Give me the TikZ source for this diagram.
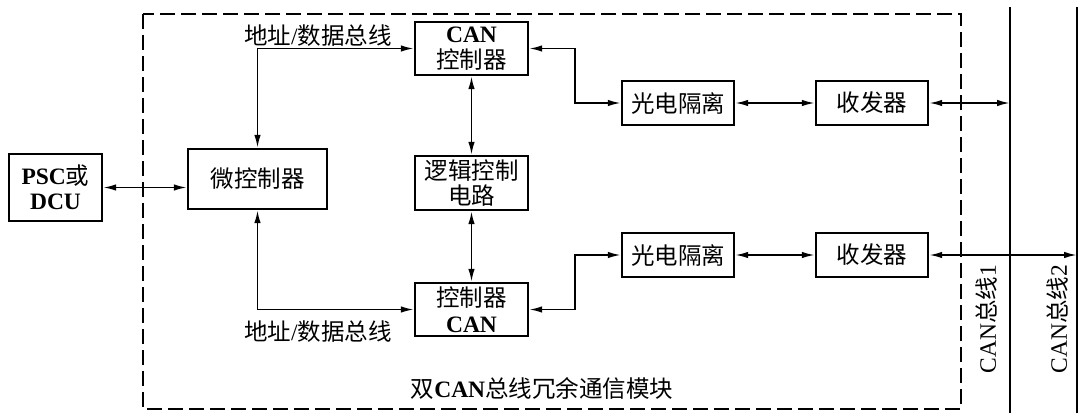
\documentclass[tikz,border=0pt]{standalone}
\usepackage{fontspec}
\setmainfont{Liberation Serif}
\newfontfamily\cjk{Noto Sans CJK SC}
\usetikzlibrary{arrows.meta}
\tikzset{
  blk/.style={draw, line width=2.3pt, align=center, inner sep=0pt,
    font=\fontsize{23.5}{25.5}\selectfont},
  arr/.style={line width=1.8pt, {Latex[length=13pt,width=6.5pt]}-{Latex[length=13pt,width=6.5pt]}},
  lbl/.style={font=\fontsize{23.5}{25.5}\selectfont, inner sep=0pt},
  busline/.style={line width=2pt},
  frame/.style={line width=2pt, dash pattern=on 15pt off 6pt}
}
\begin{document}
\begin{tikzpicture}[x=1pt,y=-1pt]
\useasboundingbox (0,0) rectangle (1082,413);
% dashed module frame
\draw[frame] (143,14) rectangle (961,409);
% blocks
\node[blk, minimum width=93pt, minimum height=67pt] (psc) at (55.5,187.5) {\textbf{PSC}{\cjk 或}\\\textbf{DCU}};
\node[blk, minimum width=139pt, minimum height=60pt] (mcu) at (257.5,179) {{\cjk 微控制器}};
\node[blk, minimum width=113pt, minimum height=53pt] (can1) at (471.5,48.5) {\textbf{CAN}\\{\cjk 控制器}};
\node[blk, minimum width=113pt, minimum height=54pt] (logic) at (471.5,183) {{\cjk 逻辑控制}\\{\cjk 电路}};
\node[blk, minimum width=113pt, minimum height=53pt] (can2) at (471.5,309.5) {{\cjk 控制器}\\\textbf{CAN}};
\node[blk, minimum width=112pt, minimum height=44pt] (opto1) at (678,103) {{\cjk 光电隔离}};
\node[blk, minimum width=112pt, minimum height=44pt] (trx1) at (872,103) {{\cjk 收发器}};
\node[blk, minimum width=112pt, minimum height=44pt] (opto2) at (678,255) {{\cjk 光电隔离}};
\node[blk, minimum width=112pt, minimum height=44pt] (trx2) at (872,255) {{\cjk 收发器}};
% buses
\coordinate (b1t) at (1010,7);
\coordinate (b1b) at (1010,413);
\coordinate (b2t) at (1077,7);
\coordinate (b2b) at (1077,413);
\draw[busline] (b1t) -- (b1b);
\draw[busline] (b2t) -- (b2b);
% elbow coordinates
\coordinate (e1) at (575,75);
\coordinate (e2) at (575,280);
% connectors
\draw[arr] (psc.east) -- (psc.east -| mcu.west);
\draw[arr] (mcu.north) |- (can1.west);
\draw[arr] (mcu.south) |- (can2.west);
\draw[arr] (can1.south) -- (logic.north);
\draw[arr] (logic.south) -- (can2.north);
\draw[arr] (can1.east) -- (can1.east -| e1) |- (opto1.west);
\draw[arr] (can2.east) -- (can2.east -| e2) |- (opto2.west);
\draw[arr] (opto1.east) -- (trx1.west);
\draw[arr] (opto2.east) -- (trx2.west);
\draw[arr] (trx1.east) -- (trx1.east -| b1t);
\draw[arr] (trx2.east) -- (trx2.east -| b2t);
% labels
\node[lbl] (ltop) at (318,36) {{\cjk 地址}/{\cjk 数据总线}};
\node[lbl] (lbot) at (318,332) {{\cjk 地址}/{\cjk 数据总线}};
\node[lbl] (lmod) at (542,388) {{\cjk 双}\textbf{CAN}{\cjk 总线冗余通信模块}};
\node[lbl, rotate=90] (lb1) at (987,319) {CAN{\cjk 总线}1};
\node[lbl, rotate=90] (lb2) at (1058,319) {CAN{\cjk 总线}2};
\end{tikzpicture}
\end{document}
